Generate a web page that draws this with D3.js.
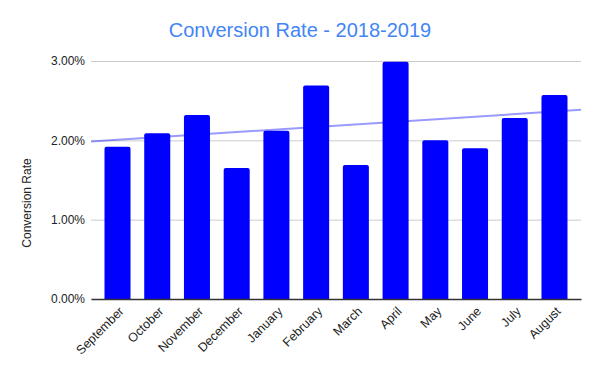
<!DOCTYPE html>
<html><head><meta charset="utf-8">
<script src="https://cdn.jsdelivr.net/npm/d3@7"></script>
<style>body{margin:0;background:#fff}svg{display:block}</style>
</head><body><svg id="c" width="600" height="371"></svg>
<script>
const months = ["September","October","November","December","January","February","March","April","May","June","July","August"];
const rates = [1.92,2.09,2.32,1.65,2.12,2.69,1.69,2.99,2.00,1.90,2.28,2.57];
const yTicks = [0,1,2,3];
const title = "Conversion Rate - 2018-2019";
const yTitle = "Conversion Rate";

const svg = d3.select("#c");
const W=600,H=371, L=91, R=581, T=61, B=299;
const font = "'Liberation Sans', Arial, sans-serif";
const x = d3.scaleBand().domain(months).range([L,R]).paddingInner(0.345).paddingOuter(0.34);
const y = d3.scaleLinear().domain([0,3]).range([B,T]);

svg.append("text").attr("x",300).attr("y",37).attr("text-anchor","middle")
  .attr("font-family",font).attr("font-size",20).attr("fill","#4285f4").text(title);

// grid
const ga = svg.append("g").attr("transform",`translate(${L},0)`)
  .call(d3.axisLeft(y).tickValues(yTicks).tickSize(-(R-L)).tickFormat(d=>d.toFixed(2)+"%"));
ga.select(".domain").remove();
ga.selectAll(".tick line").attr("stroke","#cccccc");
ga.selectAll(".tick text").attr("x",-6).attr("font-family",font).attr("font-size",12).attr("fill","#222");

// bars
const r=2;
svg.append("g").selectAll("path").data(rates).join("path")
  .attr("fill","#0000ff")
  .attr("d",(d,i)=>{const x0=x(months[i]),w=x.bandwidth(),y0=y(d),yb=y(0);
    return `M${x0},${yb}V${y0+r}Q${x0},${y0} ${x0+r},${y0}H${x0+w-r}Q${x0+w},${y0} ${x0+w},${y0+r}V${yb}Z`;});

// baseline axis
const xa = svg.append("g").attr("transform",`translate(0,${B})`)
  .call(d3.axisBottom(x).tickSize(0));
xa.select(".domain").attr("stroke","#333").attr("stroke-width",1.3);
xa.selectAll(".tick text").attr("font-family",font).attr("font-size",12.5).attr("fill","#222")
  .attr("text-anchor","end").attr("dy",0).attr("y",0)
  .attr("transform","translate(7,13) rotate(-45)");

// trendline (least squares of the series)
const n=rates.length, mx=(n-1)/2, my=d3.mean(rates);
let sxy=0,sxx=0; rates.forEach((v,i)=>{sxy+=(i-mx)*(v-my);sxx+=(i-mx)*(i-mx);});
const slope=sxy/sxx;
const idx = px => (px - (x(months[0])+x.bandwidth()/2))/x.step();
const tv = px => my + slope*(idx(px)-mx);
svg.append("line").attr("x1",L).attr("x2",R).attr("y1",y(tv(L))).attr("y2",y(tv(R)))
  .attr("stroke","#0000ff").attr("stroke-opacity",0.4).attr("stroke-width",2);

svg.append("text").attr("transform",`translate(31,203) rotate(-90)`).attr("text-anchor","middle")
  .attr("font-family",font).attr("font-size",12).attr("fill","#222").text(yTitle);
</script></body></html>
